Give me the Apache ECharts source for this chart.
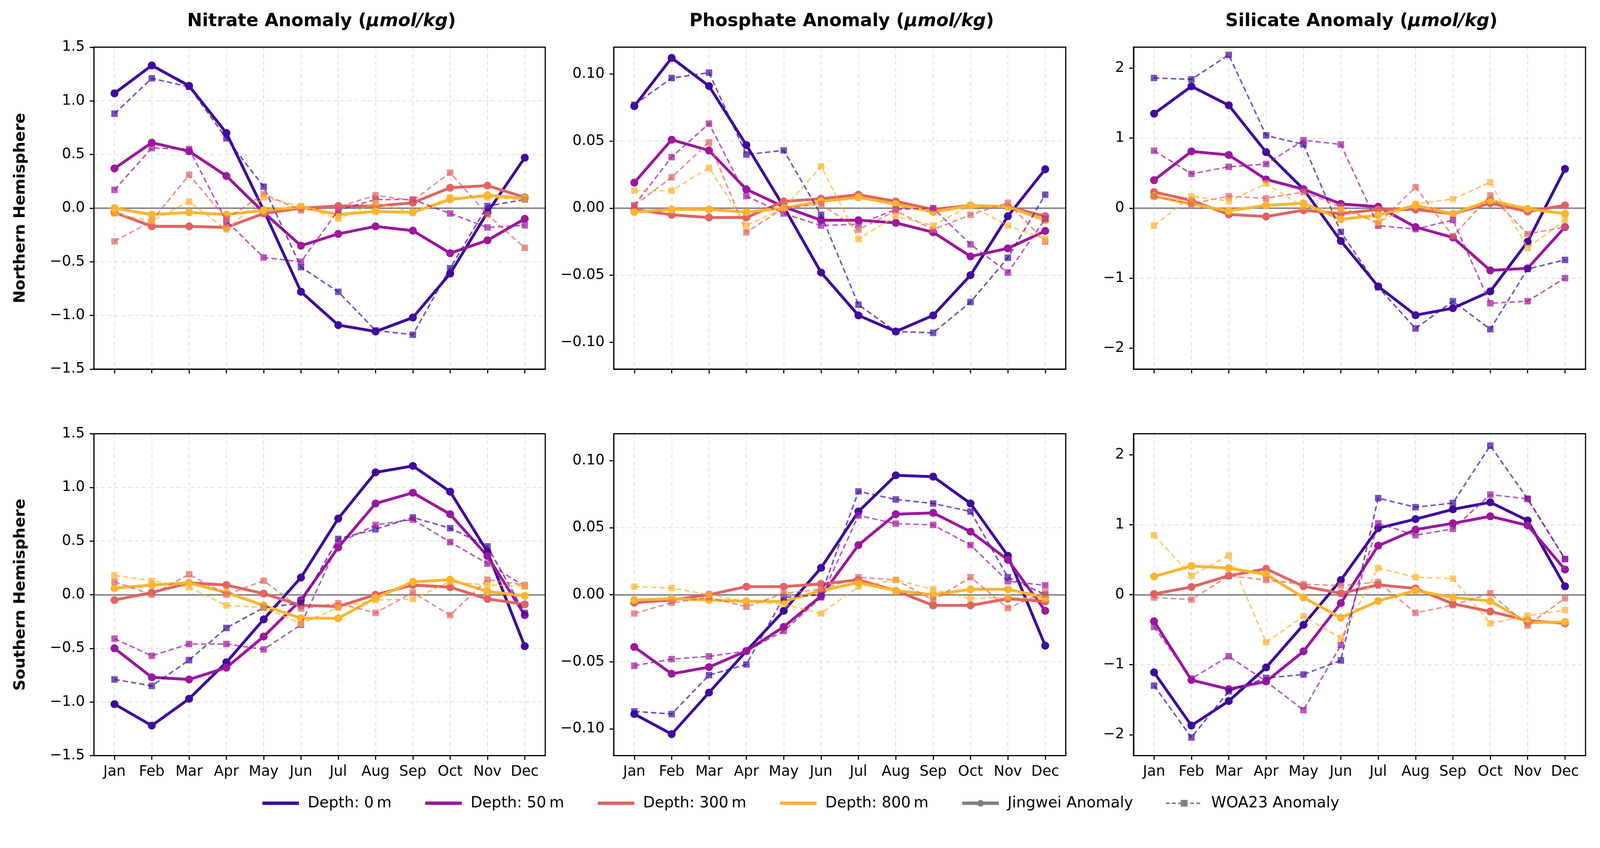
<!DOCTYPE html>
<html>
<head>
<meta charset="utf-8">
<script src="https://cdn.jsdelivr.net/npm/echarts@6/dist/echarts.min.js"></script>
<style>html,body{margin:0;padding:0;background:#fff;overflow:hidden}#chart{width:100vw;height:100vh}</style>
</head>
<body>
<div id="chart"></div>
<script>
const months = ['Jan','Feb','Mar','Apr','May','Jun','Jul','Aug','Sep','Oct','Nov','Dec']
const monthTicks = [0,1,2,3,4,5,6,7,8,9,10,11]
const depths = ['Depth: 0\u2009m','Depth: 50\u2009m','Depth: 300\u2009m','Depth: 800\u2009m']
const depthColors = ['#3e0a9c','#9c179e','#e16462','#fdb42f']

// each list: rows are depths 0, 50, 300, 800 m
const nitrateNorthJingwei = [
	[1.07,1.33,1.14,0.70,-0.02,-0.78,-1.09,-1.15,-1.02,-0.61,-0.04,0.47],
	[0.37,0.61,0.53,0.30,-0.04,-0.35,-0.24,-0.17,-0.21,-0.42,-0.30,-0.10],
	[-0.04,-0.17,-0.17,-0.18,-0.05,0.00,0.02,0.02,0.05,0.19,0.21,0.10],
	[0.00,-0.06,-0.04,-0.06,-0.02,0.01,-0.06,-0.03,-0.04,0.08,0.12,0.09]]
const nitrateNorthWoa = [
	[0.88,1.21,1.13,0.65,0.20,-0.55,-0.78,-1.14,-1.18,-0.56,0.02,0.08],
	[0.17,0.56,0.55,-0.12,-0.46,-0.50,-0.02,0.08,0.08,-0.05,-0.18,-0.16],
	[-0.31,-0.12,0.31,-0.10,0.13,-0.02,0.01,0.12,0.07,0.33,-0.06,-0.37],
	[-0.05,-0.12,0.06,-0.20,0.10,0.02,-0.10,0.05,-0.04,0.10,0.10,0.08]]
const phosphateNorthJingwei = [
	[0.076,0.112,0.091,0.047,0.001,-0.048,-0.080,-0.092,-0.080,-0.050,-0.006,0.029],
	[0.019,0.051,0.043,0.014,0.001,-0.009,-0.009,-0.011,-0.018,-0.036,-0.030,-0.017],
	[-0.001,-0.005,-0.007,-0.007,0.005,0.007,0.010,0.005,-0.001,0.002,0.001,-0.006],
	[-0.003,-0.001,-0.001,-0.003,0.000,0.005,0.008,0.003,-0.003,0.002,0.001,-0.009]]
const phosphateNorthWoa = [
	[0.077,0.097,0.101,0.040,0.043,-0.005,-0.072,-0.092,-0.093,-0.070,-0.037,0.010],
	[0.002,0.038,0.063,0.009,-0.004,-0.013,-0.012,-0.001,0.000,-0.027,-0.048,-0.008],
	[0.002,0.023,0.049,-0.018,0.000,0.003,-0.016,-0.002,-0.016,-0.005,0.004,-0.025],
	[0.013,0.013,0.030,-0.013,0.000,0.031,-0.023,-0.006,-0.013,0.002,-0.013,-0.023]]
const silicateNorthJingwei = [
	[1.35,1.74,1.47,0.80,0.27,-0.47,-1.12,-1.53,-1.43,-1.19,-0.48,0.56],
	[0.40,0.81,0.76,0.41,0.27,0.06,0.02,-0.27,-0.42,-0.89,-0.86,-0.27],
	[0.23,0.11,-0.09,-0.12,-0.03,-0.08,-0.02,-0.02,-0.08,0.07,-0.05,0.04],
	[0.17,0.06,-0.04,0.04,0.07,-0.16,-0.10,0.04,-0.08,0.11,-0.01,-0.08]]
const silicateNorthWoa = [
	[1.86,1.84,2.19,1.04,0.91,-0.34,-1.13,-1.72,-1.33,-1.73,-0.87,-0.74],
	[0.82,0.49,0.59,0.63,0.97,0.91,-0.25,-0.30,-0.17,-1.36,-1.33,-1.00],
	[0.17,0.06,0.17,0.14,0.23,0.02,-0.22,0.30,-0.40,0.18,-0.37,-0.27],
	[-0.25,0.17,0.10,0.35,0.02,-0.02,-0.20,0.06,0.13,0.37,-0.57,-0.17]]
const nitrateSouthJingwei = [
	[-1.02,-1.22,-0.97,-0.63,-0.23,0.16,0.71,1.14,1.20,0.96,0.40,-0.48],
	[-0.50,-0.77,-0.79,-0.68,-0.39,-0.05,0.44,0.85,0.95,0.75,0.36,-0.19],
	[-0.05,0.02,0.11,0.09,0.01,-0.10,-0.11,0.00,0.09,0.07,-0.04,-0.09],
	[0.06,0.09,0.11,0.02,-0.10,-0.22,-0.22,-0.03,0.12,0.14,0.03,-0.01]]
const nitrateSouthWoa = [
	[-0.79,-0.85,-0.61,-0.31,-0.12,-0.08,0.52,0.61,0.72,0.62,0.45,-0.17],
	[-0.41,-0.57,-0.46,-0.46,-0.51,-0.28,0.48,0.65,0.70,0.49,0.29,0.08],
	[0.12,0.00,0.19,0.00,0.13,-0.13,-0.08,-0.17,0.02,-0.19,0.14,0.09],
	[0.18,0.13,0.07,-0.10,-0.12,-0.27,-0.12,-0.05,-0.04,0.12,0.09,0.08]]
const phosphateSouthJingwei = [
	[-0.089,-0.104,-0.073,-0.042,-0.012,0.020,0.062,0.089,0.088,0.068,0.029,-0.038],
	[-0.039,-0.059,-0.054,-0.042,-0.024,-0.001,0.037,0.060,0.061,0.047,0.026,-0.012],
	[-0.006,-0.004,0.000,0.006,0.006,0.008,0.011,0.003,-0.008,-0.008,-0.003,-0.005],
	[-0.004,-0.003,-0.004,-0.005,-0.005,0.003,0.009,0.003,0.000,0.004,0.004,-0.002]]
const phosphateSouthWoa = [
	[-0.087,-0.089,-0.060,-0.052,-0.002,0.000,0.077,0.071,0.068,0.062,0.013,0.000],
	[-0.053,-0.048,-0.046,-0.042,-0.027,-0.002,0.059,0.053,0.052,0.037,0.010,0.007],
	[-0.014,-0.006,-0.002,-0.009,0.001,0.004,0.013,0.011,-0.004,0.013,-0.010,0.002],
	[0.006,0.005,0.000,-0.005,-0.007,-0.014,0.006,0.011,0.004,-0.003,-0.002,-0.003]]
const silicateSouthJingwei = [
	[-1.11,-1.87,-1.52,-1.04,-0.43,0.21,0.95,1.08,1.22,1.32,1.06,0.12],
	[-0.38,-1.22,-1.35,-1.24,-0.81,-0.12,0.70,0.93,1.02,1.12,0.99,0.36],
	[0.01,0.11,0.27,0.37,0.12,0.02,0.14,0.09,-0.13,-0.24,-0.37,-0.41],
	[0.26,0.41,0.38,0.29,-0.04,-0.33,-0.09,0.06,-0.04,-0.09,-0.40,-0.39]]
const silicateSouthWoa = [
	[-1.30,-2.04,-1.38,-1.19,-1.14,-0.94,1.38,1.25,1.31,2.13,1.37,0.51],
	[-0.46,-1.20,-0.88,-1.24,-1.65,-0.72,1.02,0.85,0.94,1.43,1.37,0.51],
	[-0.04,-0.07,0.27,0.21,0.15,0.13,0.18,-0.26,-0.15,0.02,-0.44,-0.05],
	[0.85,0.27,0.56,-0.68,-0.31,-0.62,0.38,0.25,0.23,-0.41,-0.30,-0.22]]

const nitrateTicks = [-1.5,-1.0,-0.5,0.0,0.5,1.0,1.5]
const phosphateTicks = [-0.10,-0.05,0.00,0.05,0.10]
const silicateTicks = [-2,-1,0,1,2]

// layout is laid out for a 4205 px wide page and scaled to the real viewport
const s = window.innerWidth / 4205
const px = v => v * s

const columns = [
	{ name: 'Nitrate', range: 1.5, ticks: nitrateTicks, digits: 1, left: 247, width: 1186 },
	{ name: 'Phosphate', range: 0.12, ticks: phosphateTicks, digits: 2, left: 1613, width: 1188 },
	{ name: 'Silicate', range: 2.3, ticks: silicateTicks, digits: 0, left: 2979, width: 1188 }
]
const rows = [
	{ name: 'Northern Hemisphere', top: 124, jingwei: [nitrateNorthJingwei, phosphateNorthJingwei, silicateNorthJingwei], woa: [nitrateNorthWoa, phosphateNorthWoa, silicateNorthWoa] },
	{ name: 'Southern Hemisphere', top: 1140, jingwei: [nitrateSouthJingwei, phosphateSouthJingwei, silicateSouthJingwei], woa: [nitrateSouthWoa, phosphateSouthWoa, silicateSouthWoa] }
]
const plotHeight = 846
const font = 'DejaVu Sans'
const toPairs = vals => vals.map((v, k) => [monthTicks[k], v])
const gridLine = { color: '#dddddd', width: px(2), type: [px(10), px(8)] }

const grid = [], xAxis = [], yAxis = [], series = []
rows.forEach((row, r) => {
	columns.forEach((col, c) => {
		const i = r * 3 + c
		grid.push({ left: px(col.left), top: px(row.top), width: px(col.width), height: px(plotHeight), containLabel: false, outerBoundsMode: 'none',
			show: true, borderColor: '#000', borderWidth: px(3), backgroundColor: 'transparent', z: 10 })
		xAxis.push({
			type: 'value', gridIndex: i, min: -0.55, max: 11.55,
			axisLine: { show: true, onZero: false, lineStyle: { color: '#000', width: px(3) } },
			axisTick: { show: true, length: px(11), customValues: monthTicks, lineStyle: { color: '#000', width: px(3) } },
			axisLabel: { show: r === 1, fontFamily: font, fontSize: px(38), color: '#000', margin: px(24), customValues: monthTicks,
				formatter: v => months[Math.round(v)] },
			splitLine: { show: true, lineStyle: gridLine }
		})
		yAxis.push({
			type: 'value', gridIndex: i, min: -col.range, max: col.range,
			axisLine: { show: true, onZero: false, lineStyle: { color: '#000', width: px(3) } },
			axisTick: { show: true, length: px(11), customValues: col.ticks, lineStyle: { color: '#000', width: px(3) } },
			axisLabel: { fontFamily: font, fontSize: px(38), color: '#000', margin: px(24), customValues: col.ticks,
				formatter: v => (v < -1e-9 ? '\u2212' : '') + Math.abs(v).toFixed(col.digits) },
			splitLine: { show: true, showMinLine: false, showMaxLine: false, lineStyle: gridLine }
		})
		depthColors.forEach((color, d) => {
			series.push({
				type: 'line', xAxisIndex: i, yAxisIndex: i, data: toPairs(row.jingwei[c][d]), z: 3,
				symbol: 'circle', symbolSize: px(21), lineStyle: { color: color, width: px(7.5) },
				itemStyle: { color: color }, silent: true,
				markLine: d === 0 ? { silent: true, symbol: 'none', label: { show: false }, z: 1,
					lineStyle: { color: '#888', width: px(4), type: 'solid' }, data: [{ yAxis: 0 }] } : undefined
			})
			series.push({
				type: 'line', xAxisIndex: i, yAxisIndex: i, data: toPairs(row.woa[c][d]), z: 4,
				symbol: 'rect', symbolSize: px(17), lineStyle: { color: color, width: px(4), type: [px(14), px(8)], opacity: 0.7 },
				itemStyle: { color: color, opacity: 0.7 }, silent: true
			})
		})
	})
})

// legend-only series
depths.forEach((name, d) => {
	series.push({ type: 'line', name: name, xAxisIndex: 0, yAxisIndex: 0, data: [], symbol: 'none',
		lineStyle: { color: depthColors[d], width: px(9) }, itemStyle: { color: depthColors[d] } })
})
series.push({ type: 'line', name: 'Jingwei Anomaly', xAxisIndex: 0, yAxisIndex: 0, data: [], symbol: 'circle', symbolSize: px(22),
	lineStyle: { color: '#808080', width: px(9) }, itemStyle: { color: '#808080' } })
series.push({ type: 'line', name: 'WOA23 Anomaly', xAxisIndex: 0, yAxisIndex: 0, data: [], symbol: 'rect', symbolSize: px(16),
	lineStyle: { color: '#808080', width: px(4), type: [px(10), px(6)] }, itemStyle: { color: '#808080' } })

const legendData = depths.map((name, d) => ({ name: name, itemStyle: { opacity: 0 }, lineStyle: { width: px(9), color: depthColors[d] } }))
	.concat([{ name: 'Jingwei Anomaly', lineStyle: { width: px(9) } },
		{ name: 'WOA23 Anomaly', lineStyle: { width: px(4), type: [px(10), px(6)] } }])

const title = columns.map(col => ({
	left: px(col.left + col.width / 2), top: px(28), textAlign: 'center',
	text: '{b|' + col.name + ' Anomaly (}{i|\u03bcmol/kg}{b|)}',
	textStyle: { rich: { b: { fontFamily: font, fontSize: px(47), fontWeight: 'bold', color: '#000' },
		i: { fontFamily: font, fontSize: px(47), fontStyle: 'italic', color: '#000' } } }
}))

const chart = echarts.init(document.getElementById('chart'))
chart.setOption({
	animation: false,
	backgroundColor: '#fff',
	title: title,
	graphic: rows.map(row => ({
		type: 'text', x: px(54), y: px(row.top + plotHeight / 2), rotation: Math.PI / 2,
		style: { text: row.name, fontFamily: font, fontSize: px(41), fontWeight: 'bold', fill: '#000', align: 'center', verticalAlign: 'middle' }
	})),
	legend: {
		data: legendData,
		left: 'center', top: px(2086), itemWidth: px(96), itemHeight: px(22), itemGap: px(84),
		textStyle: { fontFamily: font, fontSize: px(40), color: '#000', padding: [0, 0, 0, px(18)] }, selectedMode: false
	},
	grid: grid, xAxis: xAxis, yAxis: yAxis, series: series
})
</script>
</body>
</html>
